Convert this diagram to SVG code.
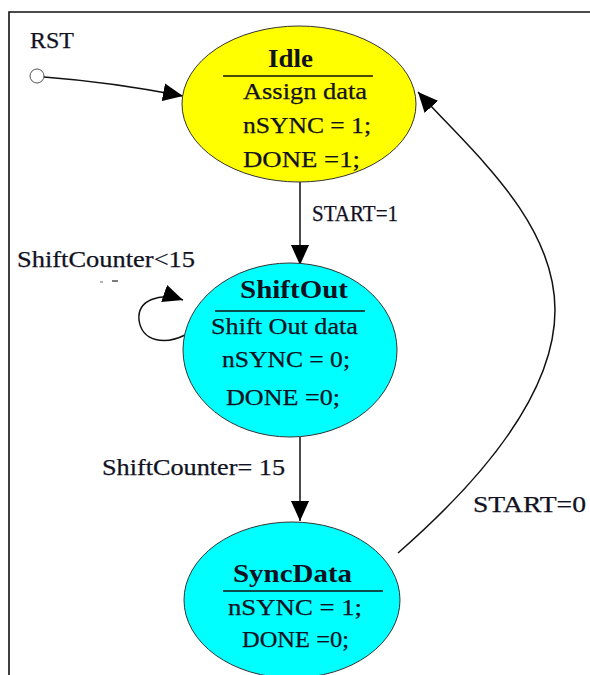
<svg xmlns="http://www.w3.org/2000/svg" width="590" height="675" viewBox="0 0 590 675">
<style>
  .t { font-family: "Liberation Serif", "Times New Roman", serif; font-size: 23px; fill: #111122; stroke: #111122; stroke-width: 0.25; }
  .b { font-family: "Liberation Serif", "Times New Roman", serif; font-size: 25px; font-weight: bold; fill: #111122; }
  .edge { fill: none; stroke: #111; stroke-width: 1.5; }
  .div { stroke: #111; stroke-width: 1.5; }
  .st { stroke: #333; stroke-width: 1; }
</style>
<defs>
  <marker id="arr" viewBox="0 0 20 18" refX="20" refY="9" markerWidth="20" markerHeight="18" markerUnits="userSpaceOnUse" orient="auto">
    <path d="M0,0 L20,9 L0,18 z" fill="#000"/>
  </marker>
</defs>
<rect width="590" height="675" fill="#fff"/>
<path d="M9,675 V12 H590" fill="none" stroke="#111" stroke-width="1.6"/>

<g id="connectors">
  <circle cx="37" cy="76" r="7" fill="#fff" stroke="#555" stroke-width="1"/>
  <path class="edge" d="M44,77 Q110,82 183,96" marker-end="url(#arr)"/>
  <path class="edge" d="M300,182 V265" marker-end="url(#arr)"/>
  <path class="edge" d="M185,335 C165,345 142,342 139,320 C137,300 160,292 183,300" marker-end="url(#arr)"/>
  <path class="edge" d="M300,437 V521" marker-end="url(#arr)"/>
  <path class="edge" d="M398,553 C470,490 555,400 555,310 C555,220 470,150 418,92" marker-end="url(#arr)"/>
  <line x1="100" y1="282" x2="103" y2="282" stroke="#666" stroke-width="1"/>
  <line x1="112" y1="281" x2="118" y2="281" stroke="#333" stroke-width="1.3"/>
</g>

<g id="labels">
  <text class="t" x="30" y="48" textLength="44" lengthAdjust="spacingAndGlyphs">RST</text>
  <text class="t" x="312" y="221" textLength="86" lengthAdjust="spacingAndGlyphs">START=1</text>
  <text class="t" x="17" y="267" textLength="178" lengthAdjust="spacingAndGlyphs">ShiftCounter&lt;15</text>
  <text class="t" x="102" y="475" textLength="183" lengthAdjust="spacingAndGlyphs">ShiftCounter= 15</text>
  <text class="t" x="473" y="512" textLength="113" lengthAdjust="spacingAndGlyphs">START=0</text>
</g>

<g id="idle">
  <ellipse cx="299" cy="104" rx="117" ry="78" fill="#ffff00" class="st"/>
  <text class="b" x="268" y="67" textLength="45" lengthAdjust="spacingAndGlyphs">Idle</text>
  <line class="div" x1="223" y1="76" x2="373" y2="76"/>
  <text class="t" x="243" y="99" textLength="124" lengthAdjust="spacingAndGlyphs">Assign data</text>
  <text class="t" x="243" y="133" textLength="128" lengthAdjust="spacingAndGlyphs">nSYNC = 1;</text>
  <text class="t" x="243" y="167" textLength="117" lengthAdjust="spacingAndGlyphs">DONE =1;</text>
</g>

<g id="shiftout">
  <ellipse cx="290" cy="350" rx="107" ry="87" fill="#00ffff" class="st"/>
  <text class="b" x="240" y="298" textLength="108" lengthAdjust="spacingAndGlyphs">ShiftOut</text>
  <line class="div" x1="215" y1="311" x2="365" y2="311"/>
  <text class="t" x="211" y="334" textLength="147" lengthAdjust="spacingAndGlyphs">Shift Out data</text>
  <text class="t" x="222" y="367" textLength="128" lengthAdjust="spacingAndGlyphs">nSYNC = 0;</text>
  <text class="t" x="226" y="405" textLength="114" lengthAdjust="spacingAndGlyphs">DONE =0;</text>
</g>

<g id="syncdata">
  <ellipse cx="292" cy="600" rx="108" ry="78" fill="#00ffff" class="st"/>
  <text class="b" x="233" y="582" textLength="119" lengthAdjust="spacingAndGlyphs">SyncData</text>
  <line class="div" x1="223" y1="591" x2="383" y2="591"/>
  <text class="t" x="228" y="615" textLength="134" lengthAdjust="spacingAndGlyphs">nSYNC = 1;</text>
  <text class="t" x="242" y="647" textLength="107" lengthAdjust="spacingAndGlyphs">DONE =0;</text>
</g>
</svg>
